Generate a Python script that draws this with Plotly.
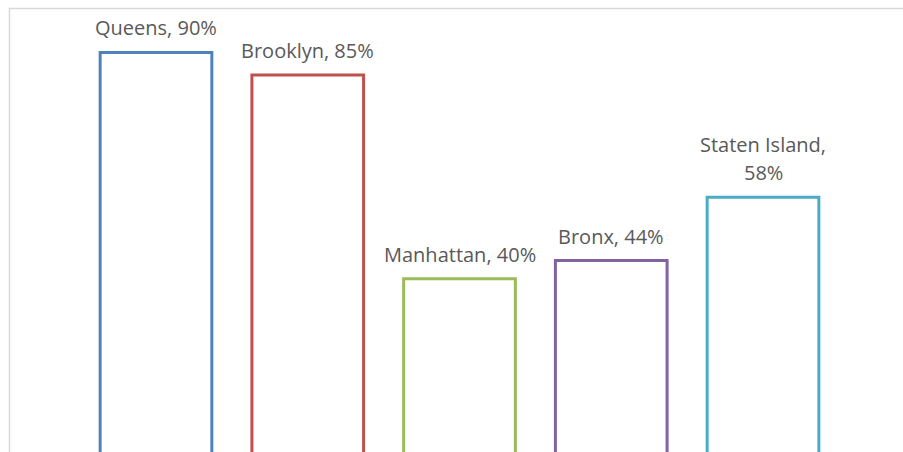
"""NYC borough bar chart — outlined bars with category/value labels."""

import plotly.graph_objects as go

# ── Data ──
BOROUGHS = ["Queens", "Brooklyn", "Manhattan", "Bronx", "Staten Island"]
SHARES = [0.90, 0.85, 0.40, 0.44, 0.58]
# label lines (category line, value line); a single line where it fits
LABEL_BREAKS = [False, False, False, False, True]

# ── Style ──
OUTLINES = ["#4F81BD", "#C0504D", "#9BBB59", "#8064A2", "#4BACC6"]
TEXT_COLOR = "#595959"
BORDER_COLOR = "#D9D9D9"
FONT = "Open Sans, sans-serif"
LINE_STEP = 28  # px between label lines

W, H = 903, 452

fig = go.Figure(
    data=[
        go.Bar(
            x=BOROUGHS,
            y=SHARES,
            width=0.736,
            marker=dict(color="white", line=dict(color=OUTLINES, width=3)),
            hoverinfo="skip",
        )
    ]
)

for name, val, split in zip(BOROUGHS, SHARES, LABEL_BREAKS):
    lines = [f"{name},", f"{val:.0%}"] if split else [f"{name}, {val:.0%}"]
    # bottom line first, stacking upward
    for k, line in enumerate(reversed(lines)):
        fig.add_annotation(
            x=name,
            y=val,
            text=line,
            showarrow=False,
            yanchor="bottom",
            yshift=9 + k * LINE_STEP,
            font=dict(family=FONT, size=20, color=TEXT_COLOR),
        )

# chart-area border (light grey, runs off the right and bottom)
fig.add_shape(
    type="rect",
    xref="paper",
    yref="paper",
    x0=9.5 / W,
    x1=1.2,
    y0=-0.2,
    y1=1 - 8.5 / H,
    line=dict(color=BORDER_COLOR, width=1.5),
    layer="below",
)

fig.update_layout(
    width=W,
    height=H,
    margin=dict(l=0, r=0, t=0, b=0),
    paper_bgcolor="white",
    plot_bgcolor="white",
    showlegend=False,
    font=dict(family=FONT, color=TEXT_COLOR),
)
fig.update_xaxes(
    range=[-156 / 151.75, (W - 156) / 151.75],
    showticklabels=False,
    showgrid=False,
    zeroline=False,
    showline=False,
)
fig.update_yaxes(
    range=[0.017, 1.0159],
    showticklabels=False,
    showgrid=False,
    zeroline=False,
    showline=False,
)

# page body has a default 8px margin; drop it so the figure sits at the window's corner
fig.write_html(
    "out.html",
    config={"displayModeBar": False},
    post_script="document.body.style.margin='0';",
)
